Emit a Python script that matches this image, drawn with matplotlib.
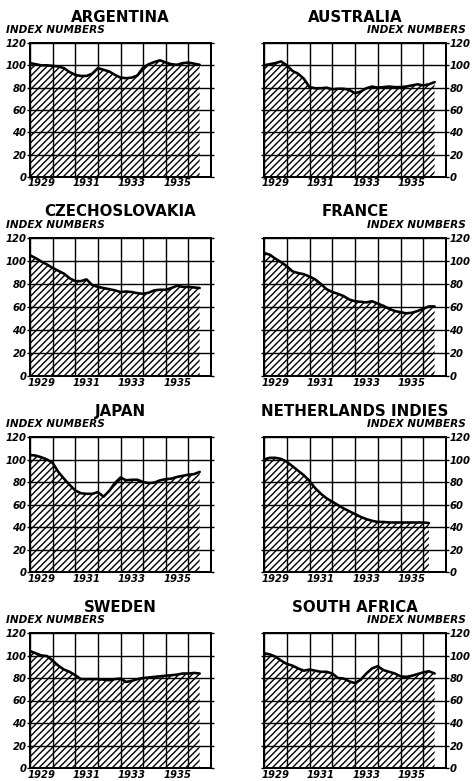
import numpy as np
import matplotlib.pyplot as plt

DPI = 120
W, H = 472, 781

# quarter-year dates, Jan 1929 .. mid 1936
dates = [1929.0, 1929.25, 1929.5, 1929.75, 1930.0, 1930.25, 1930.5, 1930.75,
         1931.0, 1931.25, 1931.5, 1931.75, 1932.0, 1932.25, 1932.5, 1932.75,
         1933.0, 1933.25, 1933.5, 1933.75, 1934.0, 1934.25, 1934.5, 1934.75,
         1935.0, 1935.25, 1935.5, 1935.75, 1936.0, 1936.25, 1936.5]

argentina = [102, 101, 100, 100, 99.5, 99, 97.5, 94, 91.5, 90.5, 90.5, 92.5,
             97.5, 96, 94.5, 91.5, 89, 88.5, 89, 91, 98, 101, 103, 104.5,
             102.5, 101, 100.5, 102, 102.5, 101.5, 100.5]
australia = [100, 101, 102, 103.5, 100, 95, 92.5, 88, 80.5, 79.5, 79.5, 80,
             78.5, 79, 79, 78, 75, 76.5, 79.5, 81, 80, 80.5, 81, 80.5,
             80.5, 81, 82, 83, 82, 83, 85]
czechoslovakia = [105, 102.5, 99.5, 97, 94, 91.5, 89, 85, 82.5, 82.5, 84, 79,
                  77.5, 76.5, 75.5, 74.5, 73, 73.5, 73, 72, 71.5, 72.5, 74.5, 75,
                  75, 76.5, 78.5, 77.5, 77.5, 77, 76.5]
france = [107, 105.5, 102, 99, 95.5, 91, 89.5, 88.5, 86.5, 84, 80, 75.5,
          73, 71.5, 69.5, 66.5, 65, 64.5, 64, 65, 63, 61, 58.5, 56.5,
          55.5, 54.5, 55, 56.5, 58.5, 60.5, 60.5]
japan = [104, 103.5, 102, 100, 97, 89, 83, 77.5, 72.5, 70, 69.5, 69.5,
         71, 67, 72, 79, 84, 81.5, 82, 82, 80, 79, 79.5, 81.5,
         82.5, 83, 84.5, 85.5, 86.5, 87, 89]
netherlands_indies = [100, 101.5, 101.5, 100.5, 98, 94, 90, 86, 81, 74.5, 69.5, 65.5,
                      62.5, 59.5, 56.5, 54, 51.5, 49, 47, 45.5, 44.5, 44.5, 44, 44,
                      44, 44, 44, 44, 44, 43.5, None]
sweden = [104, 102, 100, 99.5, 95.5, 91, 87.5, 85.5, 82.5, 79, 79, 79,
          79, 78.5, 78, 79, 79.5, 76.5, 77.5, 79, 80, 80.5, 81, 81.5,
          82, 82.5, 83, 84, 84, 84.5, 84]
south_africa = [102, 101, 99, 95.5, 92.5, 91, 88.5, 86.5, 87.5, 86.5, 85.5, 85.5,
                84, 80, 79.5, 77, 75.5, 78.5, 84, 88.5, 90.5, 87, 85.5, 84,
                81.5, 81, 82, 83.5, 85, 86, 84]

countries = ["ARGENTINA", "AUSTRALIA", "CZECHOSLOVAKIA", "FRANCE",
             "JAPAN", "NETHERLANDS INDIES", "SWEDEN", "SOUTH AFRICA"]
series = [argentina, australia, czechoslovakia, france,
          japan, netherlands_indies, sweden, south_africa]

year_lines = [1929, 1930, 1931, 1932, 1933, 1934, 1935, 1936, 1937]
year_labels = ["1929", "1931", "1933", "1935"]
year_label_pos = [1929.5, 1931.5, 1933.5, 1935.5]
index_ticks = [0, 20, 40, 60, 80, 100, 120]

# panel boxes in pixels
col_edges = [(30, 211), (264, 446)]
row_edges = [(43, 177), (238, 376), (437, 572), (633, 768)]


def px(v):
    # pixels -> points at this dpi
    return v * 72.0 / DPI


plt.rcParams['hatch.linewidth'] = px(1.4)
plt.rcParams['font.family'] = 'DejaVu Sans'

fig = plt.figure(figsize=(W / DPI, H / DPI), dpi=DPI)
t = np.array(dates)
tick_font = dict(fontsize=px(10), fontweight='bold', fontstyle='italic')

for i, (name, vals) in enumerate(zip(countries, series)):
    row, col = divmod(i, 2)
    top, bottom = row_edges[row]
    x0, x1 = col_edges[col]
    ax = fig.add_axes([x0 / W, 1 - bottom / H, (x1 - x0) / W, (bottom - top) / H])

    y = np.array([np.nan if v is None else v for v in vals], dtype=float)
    ok = ~np.isnan(y)
    ax.fill_between(t[ok], 0, y[ok], facecolor='none', edgecolor='black',
                    hatch='//////', linewidth=0)
    ax.plot(t[ok], y[ok], color='black', lw=px(2.6),
            solid_capstyle='round', solid_joinstyle='round')

    ax.set_xlim(1929, 1937)
    ax.set_ylim(0, 120)
    ax.set_xticks(year_lines)
    ax.set_xticklabels([])
    ax.set_xticks(year_label_pos, minor=True)
    ax.set_xticklabels(year_labels, minor=True, **tick_font)
    ax.tick_params(axis='x', which='major', length=0)
    ax.tick_params(axis='x', which='minor', length=0, pad=px(1.5))
    ax.set_yticks(index_ticks)
    ax.set_yticklabels([str(v) for v in index_ticks], **tick_font)
    ax.grid(True, which='major', color='black', lw=px(1.4))
    ax.set_axisbelow(False)
    for s in ax.spines.values():
        s.set_linewidth(px(2))

    ax.tick_params(axis='y', left=True, right=True, direction='out',
                   length=px(3), width=px(1.4), pad=px(0.5))
    if col == 0:
        ax.tick_params(axis='y', labelleft=True, labelright=False)
        ax.annotate("INDEX NUMBERS", xy=(0, 1), xycoords='axes fraction',
                    xytext=(px(-24), px(13)), textcoords='offset points',
                    ha='left', va='center', fontsize=px(10.5),
                    fontweight='bold', fontstyle='italic')
    else:
        ax.tick_params(axis='y', labelleft=False, labelright=True)
        ax.annotate("INDEX NUMBERS", xy=(1, 1), xycoords='axes fraction',
                    xytext=(px(20), px(13)), textcoords='offset points',
                    ha='right', va='center', fontsize=px(10.5),
                    fontweight='bold', fontstyle='italic')

    ax.annotate(name, xy=(0.5, 1), xycoords='axes fraction',
                xytext=(0, px(26)), textcoords='offset points',
                ha='center', va='center', fontsize=px(15), fontweight='bold')

fig.savefig('out.png', dpi=DPI)
